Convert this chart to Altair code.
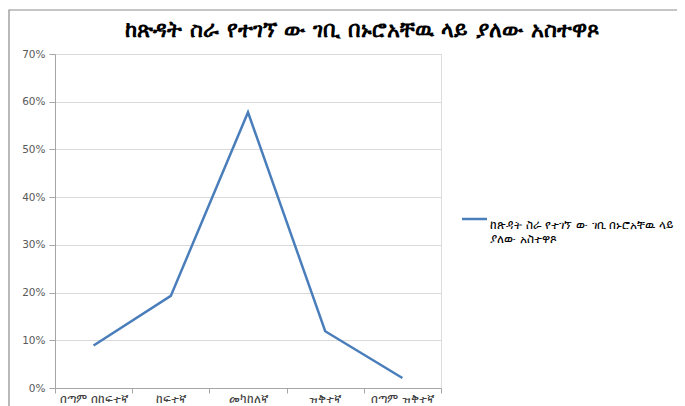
import altair as alt
import pandas as pd

title_text = "ከጽዳት ስራ የተገኘ ው  ገቢ በኑሮአቸዉ ላይ ያለው አስተዋጾ"
series_name = "ከጽዳት ስራ የተገኘ ው  ገቢ በኑሮአቸዉ ላይ ያለው አስተዋጾ"
legend_lines = ["ከጽዳት ስራ የተገኘ ው  ገቢ በኑሮአቸዉ ላይ", "ያለው አስተዋጾ"]
categories = ["በጣም በከፍተኛ", "ከፍተኛ", "መካከለኛ", "ዝቅተኛ", "በጣም ዝቅተኛ"]
values = [0.089, 0.193, 0.578, 0.119, 0.021]
y_ticks = [0, 0.1, 0.2, 0.3, 0.4, 0.5, 0.6, 0.7]

FONT = "DejaVu Sans"
LINE_COLOR = "#4A7EBB"
W, H = 386, 334

df = pd.DataFrame({"cat": categories, "val": values, "series": [series_name] * len(categories)})

x_enc = alt.X(
    "cat:N",
    sort=categories,
    scale=alt.Scale(paddingInner=0, paddingOuter=0),
    axis=alt.Axis(
        title=None, labelAngle=0, labelColor="#404040", labelFontSize=12,
        labelFont=FONT, tickBand="extent", tickSize=5, tickColor="#A6A6A6",
        domainColor="#A6A6A6", grid=False, labelPadding=0,
    ),
)
y_enc = alt.Y(
    "val:Q",
    scale=alt.Scale(domain=[0, 0.7], nice=False),
    axis=alt.Axis(
        title=None, format=".0%", values=y_ticks, labelColor="#595959",
        labelFontSize=10.5, labelFont=FONT, tickSize=6, tickColor="#A6A6A6",
        domainColor="#A6A6A6", gridColor="#D9D9D9", gridWidth=1.2, labelPadding=4,
    ),
)

line = alt.Chart(df).mark_line(color=LINE_COLOR, strokeWidth=2.5).encode(x=x_enc, y=y_enc)

frame = alt.Chart(pd.DataFrame({"a": [0]})).mark_rect(
    fill=None, stroke="#8C8C8C", strokeWidth=1.2
).encode(
    x=alt.value(-46), x2=alt.value(700), y=alt.value(-44), y2=alt.value(400)
)

title = alt.Chart(pd.DataFrame({"t": [title_text]})).mark_text(
    font=FONT, fontSize=22, fontWeight="bold", color="#000000", align="center", baseline="middle"
).encode(text="t:N", x=alt.value(307), y=alt.value(-24))

leg_rule = alt.Chart(pd.DataFrame({"a": [0]})).mark_rule(
    color=LINE_COLOR, strokeWidth=2.5
).encode(x=alt.value(407), x2=alt.value(432), y=alt.value(165))

leg_text = alt.Chart(pd.DataFrame({"t": ["\n".join(legend_lines)]})).mark_text(
    font=FONT, fontSize=11.5, color="#000000", align="left", baseline="middle", lineBreak="\n", lineHeight=14
).encode(text="t:N", x=alt.value(435), y=alt.value(172))

chart = alt.layer(frame, line, title, leg_rule, leg_text).properties(
    width=W, height=H,
    autosize=alt.AutoSizeParams(type="none"),
    padding={"left": 47, "top": 46, "right": 236, "bottom": 20},
).configure_view(stroke=None).configure(background="white")

chart.save("out.html", embed_options={"renderer": "svg", "actions": False})
